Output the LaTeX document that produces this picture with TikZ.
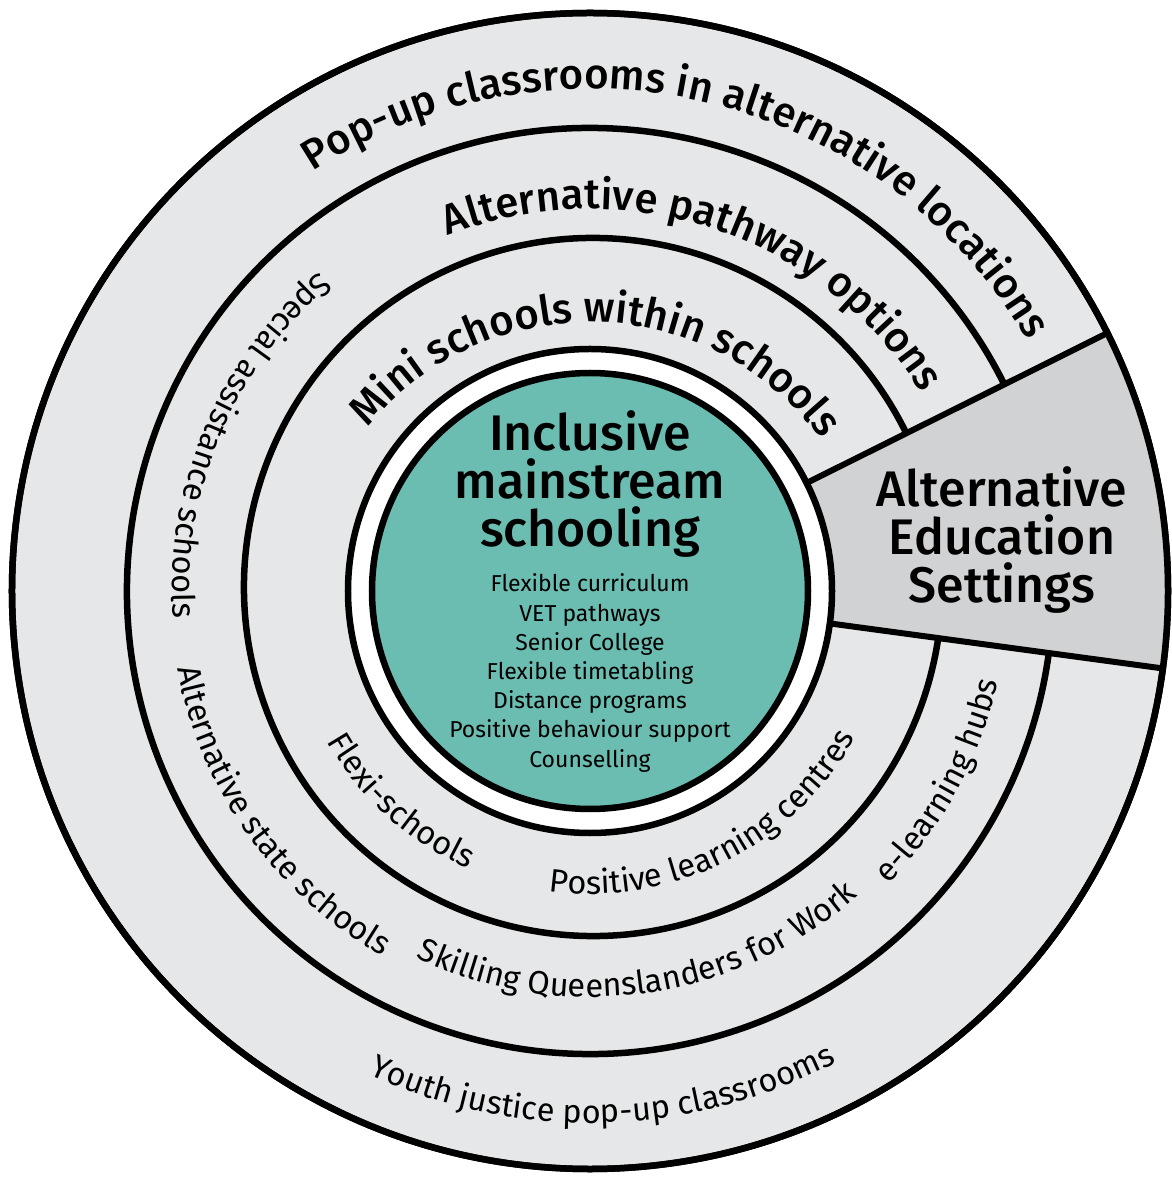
\documentclass[tikz,border=0pt]{standalone}
\usepackage{fontspec}
\setmainfont{Fira Sans}
\newfontfamily\firamed{Fira Sans Medium}
\usetikzlibrary{decorations.text}

\definecolor{ringgray}{RGB}{230,231,232}
\definecolor{wedgegray}{RGB}{209,210,212}
\definecolor{coreteal}{RGB}{106,189,176}

\newcommand\titlefont{\firamed\fontsize{42}{42}\selectfont}
\newcommand\itemfont{\fontsize{32.5}{32.5}\selectfont}

\begin{document}
\begin{tikzpicture}[
    x=1pt, y=1pt,
    ring/.style={line width=6.5pt},
    toptitle/.style={decorate, decoration={text along path, text align=center, text={|\titlefont|#1}}},
    lowitem/.style={decorate, decoration={text along path, text align=center, text={|\itemfont|#1}}},
    heading/.style={font=\firamed\fontsize{50}{48}\selectfont, align=center, inner sep=0pt},
    listing/.style={font=\fontsize{23}{29.2}\selectfont, align=center, inner sep=0pt}
]
    \useasboundingbox (-590,-586) rectangle (581,591);

    % Rings
    \filldraw[ring, fill=ringgray] (0,0) circle (578);
    \fill[wedgegray] (-7.7:242) -- (-7.7:578) arc[start angle=-7.7, end angle=26.5, radius=578]
        -- (26.5:242) arc[start angle=26.5, end angle=-7.7, radius=242] -- cycle;
    \draw[ring] (26.5:463) arc[start angle=26.5, end angle=352.3, radius=463];
    \draw[ring, shift={(3,4)}] (26.1:349) arc[start angle=26.1, end angle=351.6, radius=349];

    % Wedge edges
    \draw[ring, line width=6pt] (26.5:236) -- (26.5:578);
    \draw[ring, line width=6pt] (-7.7:236) -- (-7.7:578);

    % Core
    \filldraw[ring, fill=white] (0,0) circle (242);
    \filldraw[ring, fill=coreteal] (0,0) circle (218);
    \draw[ring] (0,0) circle (578);

    % Ring titles
    \path[toptitle={Pop-up classrooms in alternative locations}, shift={(0,-4)}] (156.7:506) arc[start angle=156.7, end angle=-3.3, radius=506];
    \path[toptitle={Alternative pathway options}, shift={(0,-9)}] (141.6:391) arc[start angle=141.6, end angle=1.6, radius=391];
    \path[toptitle={Mini schools within schools}, shift={(0,-18)}] (158.5:287) arc[start angle=158.5, end angle=18.5, radius=287];

    % Ring items
    \path[lowitem={Special assistance schools}] (117:418) arc[start angle=117, end angle=197, radius=418];
    \path[lowitem={Alternative state schools}] (175.5:420) arc[start angle=175.5, end angle=255.5, radius=420];
    \path[lowitem={Skilling Queenslanders for Work}] (238:406) arc[start angle=238, end angle=318, radius=406];
    \path[lowitem={e-learning hubs}] (291.5:418) arc[start angle=291.5, end angle=371.5, radius=418];
    \path[lowitem={Youth justice pop-up classrooms}] (221.5:532) arc[start angle=221.5, end angle=321.5, radius=532];
    \path[lowitem={Flexi-schools}] (188:303) arc[start angle=188, end angle=268, radius=303];
    \path[lowitem={Positive learning centres}] (256.6:303) arc[start angle=256.6, end angle=336.6, radius=303];

    % Centre and wedge labels
    \node[heading, anchor=base] (core) at (0,44) {Inclusive\\mainstream\\schooling};
    \node[listing, anchor=base] (options) at (0,-176) {Flexible curriculum\\VET pathways\\Senior College\\Flexible timetabling\\Distance programs\\Positive behaviour support\\Counselling};
    \node[heading, anchor=base] (aes) at (412,-12) {Alternative\\Education\\Settings};
\end{tikzpicture}
\end{document}
